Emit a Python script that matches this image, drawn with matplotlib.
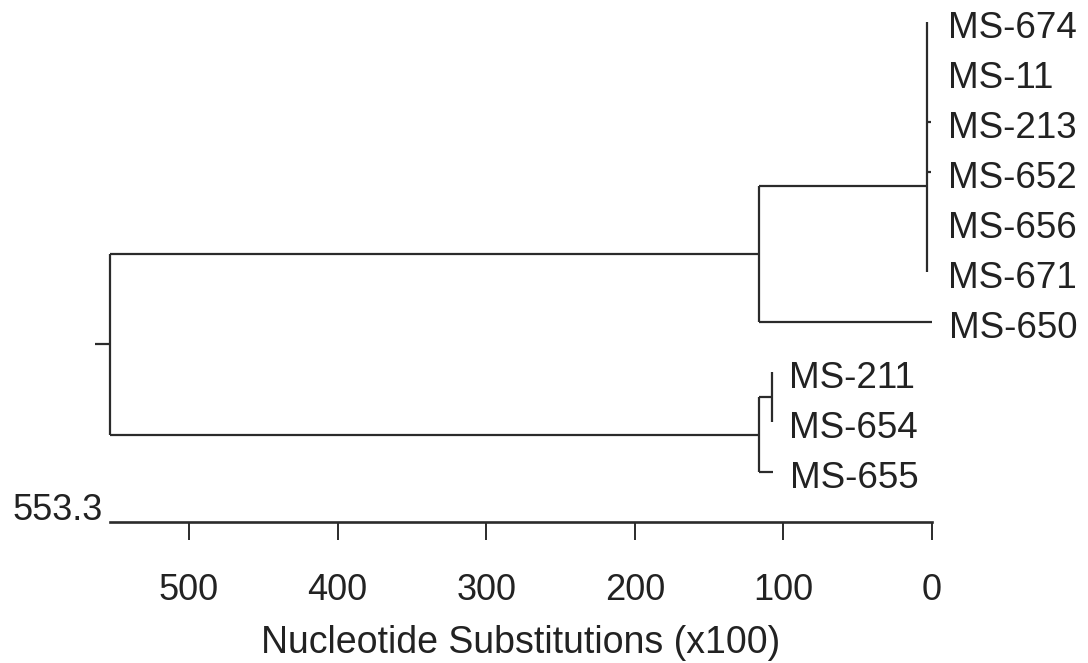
import matplotlib
matplotlib.use("Agg")
import matplotlib.pyplot as plt

# ---------------- data ----------------
leaf_names = ["MS-674", "MS-11", "MS-213", "MS-652", "MS-656", "MS-671",
              "MS-650", "MS-211", "MS-654", "MS-655"]
# distance of each leaf tip from the present (x100 substitutions)
leaf_heights = [3.6, 3.6, 0.9, 0.9, 3.6, 3.6, 0.0, 107.8, 107.8, 106.8]

# internal nodes: name -> height, name -> children
node_heights = {"root": 553.3, "A": 116.2, "C6": 3.6, "B": 116.2, "S": 107.8}
node_children = {
    "root": ["A", "B"],
    "A": ["C6", "MS-650"],
    "C6": ["MS-674", "MS-11", "MS-213", "MS-652", "MS-656", "MS-671"],
    "B": ["S", "MS-655"],
    "S": ["MS-211", "MS-654"],
}
# junction position of the six-leaf cluster (in leaf-row units)
node_y_override = {"C6": 3.28}
root_stub = 10.0

scale_max = 553.3
scale_ticks = [500, 400, 300, 200, 100, 0]
x_label = "Nucleotide Substitutions (x100)"

# ---------------- style ----------------
plt.rcParams["font.family"] = ["Liberation Sans", "DejaVu Sans"]
LINE = "#2b2b2b"
TXT = "#222222"
LW = 1.6
SCALE_ROW = 10.0

fig = plt.figure(figsize=(10.88, 6.63), dpi=100)
ax = fig.add_axes([0, 0, 1, 1])
ax.set_xlim(627.2, -105.0)
ax.set_ylim(12.82, -0.44)

leaf_row = {n: i for i, n in enumerate(leaf_names)}
leaf_h = dict(zip(leaf_names, leaf_heights))


def height(n):
    return node_heights[n] if n in node_heights else leaf_h[n]


def ypos(n):
    if n in leaf_row:
        return leaf_row[n]
    if n in node_y_override:
        return node_y_override[n]
    ys = [ypos(c) for c in node_children[n]]
    return (min(ys) + max(ys)) / 2.0


def draw(n):
    if n not in node_children:
        return
    h = node_heights[n]
    kids = node_children[n]
    ys = [ypos(c) for c in kids]
    ax.plot([h, h], [min(ys), max(ys)], color=LINE, lw=LW,
            solid_capstyle="butt")
    for c, y in zip(kids, ys):
        ch = height(c)
        if abs(ch - h) > 1e-9:
            ax.plot([h, ch], [y, y], color=LINE, lw=LW, solid_capstyle="butt")
        draw(c)


draw("root")
ry = ypos("root")
ax.plot([scale_max + root_stub, scale_max], [ry, ry], color=LINE, lw=LW,
        solid_capstyle="butt")

# leaf labels
parent = {c: p for p, cs in node_children.items() for c in cs}
for n in leaf_names:
    p = parent[n]
    lx = min(height(c) for c in node_children[p])
    ax.annotate(n, xy=(lx, leaf_row[n]), xytext=(17, -6),
                textcoords="offset pixels", ha="left", va="center",
                fontsize=26.5, color=TXT)

# scale axis
for s in ["top", "left", "right"]:
    ax.spines[s].set_visible(False)
ax.spines["bottom"].set_position(("data", SCALE_ROW))
ax.spines["bottom"].set_bounds(0, scale_max)
ax.spines["bottom"].set_linewidth(1.9)
ax.spines["bottom"].set_color(LINE)
ax.set_yticks([])
ax.set_xticks(scale_ticks)
ax.set_xticklabels([str(t) for t in scale_ticks])
ax.tick_params(axis="x", direction="out", length=13, width=1.4,
               colors=LINE, labelcolor=TXT, labelsize=26, pad=24)
ax.annotate(f"{scale_max}", xy=(scale_max, SCALE_ROW), xytext=(-7, 2),
            textcoords="offset pixels", ha="right", va="baseline",
            fontsize=26, color=TXT)
ax.text(scale_max / 2, 12.62, x_label, ha="center", va="baseline",
        fontsize=27, color=TXT)

fig.savefig("out.png", dpi=100, facecolor="white")
